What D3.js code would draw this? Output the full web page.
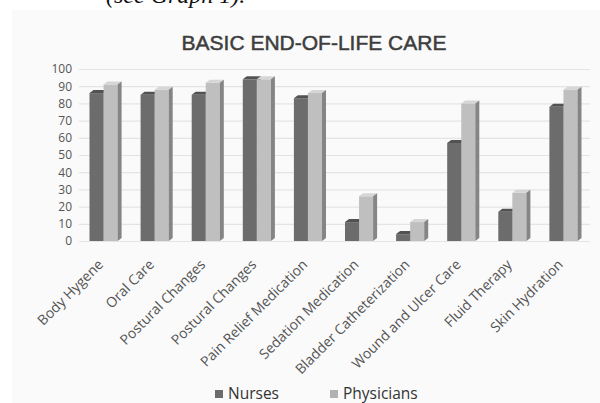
<!DOCTYPE html>
<html>
<head>
<meta charset="utf-8">
<script src="https://cdn.jsdelivr.net/npm/d3@7"></script>
<style>
  body { margin: 0; background: #ffffff; }
  svg { display: block; }
</style>
</head>
<body>
<svg id="chart" width="600" height="403"></svg>
<script>
// chart values
var categories = ["Body Hygene", "Oral Care", "Postural Changes", "Postural Changes",
  "Pain Relief Medication", "Sedation Medication", "Bladder Catheterization",
  "Wound and Ulcer Care", "Fluid Therapy", "Skin Hydration"];
var seriesNames = ["Nurses", "Physicians"];
var nurses = [86, 85, 85, 94, 83, 11, 4, 57, 17, 78];
var physicians = [91, 88, 92, 94, 86, 26, 11, 80, 28, 88];
var yTicks = [0, 10, 20, 30, 40, 50, 60, 70, 80, 90, 100];

var svg = d3.select("#chart");
var width = 600, height = 403;

// colours for the fake 3d faces
var faces = {
  Nurses: { front: "#6c6c6c", top: "#525252", side: "#4e4e4e", legend: "#6c6c6c" },
  Physicians: { front: "#bfbfbf", top: "#d6d6d6", side: "#858585", legend: "#b2b2b2" }
};
var depthX = 4, depthY = 3;

// cut off caption above the chart
svg.append("text")
  .attr("x", 106).attr("y", 3)
  .style("font-family", "'Liberation Serif', serif")
  .style("font-style", "italic")
  .style("font-size", "24px")
  .style("fill", "#111")
  .text("(see Graph 1).");

// chart panel
svg.append("rect")
  .attr("x", 12).attr("y", 10)
  .attr("width", width - 12).attr("height", height - 10)
  .style("fill", "#fafafa");

svg.append("text")
  .attr("x", 314).attr("y", 50)
  .attr("text-anchor", "middle")
  .style("font-family", "'Liberation Sans', Arial, sans-serif")
  .style("font-size", "21px")
  .style("fill", "#3e3e3e")
  .style("stroke", "#3e3e3e")
  .style("stroke-width", 0.5)
  .text("BASIC END-OF-LIFE CARE");

var x = d3.scaleBand()
  .domain(d3.range(categories.length))
  .range([78, 589])
  .paddingInner(0.45)
  .paddingOuter(0.225);

var xs = d3.scaleBand()
  .domain(seriesNames)
  .range([0, x.bandwidth()]);

var y = d3.scaleLinear()
  .domain([0, 100])
  .range([241, 69]);

// gridlines + y labels
var yAxis = svg.append("g")
  .attr("transform", "translate(79,0)")
  .call(d3.axisLeft(y).tickValues(yTicks).tickSize(-(590 - 79)).tickPadding(7));
yAxis.select(".domain").remove();
yAxis.selectAll(".tick line").style("stroke", "#e4e4e4").style("stroke-width", 1.2);
yAxis.selectAll(".tick text")
  .style("font-family", "'Open Sans', sans-serif")
  .style("font-size", "12px")
  .style("fill", "#555");

// bars
var rows = categories.map(function(c, i){
  return { index: i, values: [
    { key: "Nurses", value: nurses[i] },
    { key: "Physicians", value: physicians[i] }
  ]};
});

var groups = svg.append("g").selectAll("g")
  .data(rows).enter().append("g")
  .attr("transform", function(d){ return "translate(" + x(d.index) + ",0)"; });

groups.each(function(row){
  var g = d3.select(this);
  row.values.forEach(function(v){
    var x0 = xs(v.key), x1 = x0 + xs.bandwidth();
    var y0 = y(v.value), yb = y(0);
    var f = faces[v.key];
    g.append("rect")
      .attr("x", x0).attr("y", y0)
      .attr("width", xs.bandwidth()).attr("height", yb - y0)
      .style("fill", f.front);
    g.append("path")
      .attr("d", "M" + x0 + "," + y0 + "L" + (x0 + depthX) + "," + (y0 - depthY) +
        "L" + (x1 + depthX) + "," + (y0 - depthY) + "L" + x1 + "," + y0 + "Z")
      .style("fill", f.top);
    g.append("path")
      .attr("d", "M" + x1 + "," + y0 + "L" + (x1 + depthX) + "," + (y0 - depthY) +
        "L" + (x1 + depthX) + "," + (yb - depthY) + "L" + x1 + "," + yb + "Z")
      .style("fill", f.side);
  });
});

// rotated category labels
var xAxis = svg.append("g")
  .attr("transform", "translate(0,244)")
  .call(d3.axisBottom(x).tickSize(0).tickFormat(function(i){ return categories[i]; }));
xAxis.select(".domain").remove();
xAxis.selectAll(".tick text")
  .attr("text-anchor", "end")
  .attr("transform", "translate(-3,18) rotate(-45)")
  .attr("dy", "0.35em")
  .attr("y", 0)
  .style("font-family", "'Open Sans', sans-serif")
  .style("font-size", "14px")
  .style("fill", "#555");

// legend
var legendX = [215, 330];
var legend = svg.append("g").selectAll("g")
  .data(seriesNames).enter().append("g")
  .attr("transform", function(d, i){ return "translate(" + legendX[i] + ",394)"; });
legend.append("rect")
  .attr("x", 0).attr("y", -4).attr("width", 8).attr("height", 8)
  .style("fill", function(d){ return faces[d].legend; });
legend.append("text")
  .attr("x", 13).attr("y", 4.5)
  .style("font-family", "'Open Sans', sans-serif")
  .style("font-size", "15.5px")
  .style("fill", "#333")
  .text(function(d){ return d; });
</script>
</body>
</html>
